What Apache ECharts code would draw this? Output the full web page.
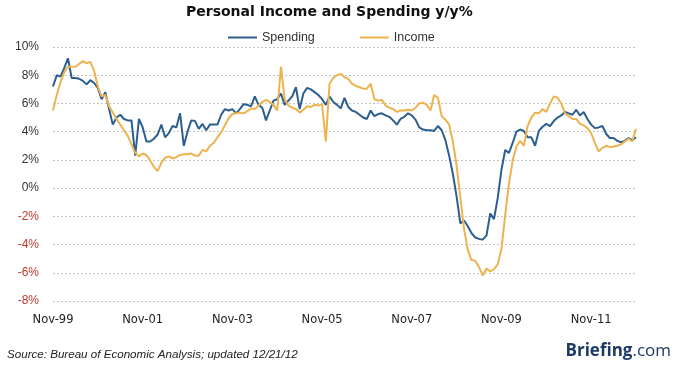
<!DOCTYPE html>
<html>
<head>
<meta charset="utf-8">
<script src="https://cdn.jsdelivr.net/npm/echarts@6/dist/echarts.min.js"></script>
<style>html,body{margin:0;padding:0;background:#fff}#c{width:680px;height:370px}</style>
</head>
<body>
<div id="c"></div>
<script>
// Monthly data, Nov-1999 .. Nov-2012 (y/y %)
const startYear = 1999, startMonth = 10; // November (0-based)
const monthNames = ['Jan','Feb','Mar','Apr','May','Jun','Jul','Aug','Sep','Oct','Nov','Dec'];
const spending = [
 7.2,8.0,7.9,8.5,9.2,7.8,7.8,7.75,7.6,7.35,7.65,7.45,7.1,6.3,6.8,5.6,4.5,5.0,5.2,4.9,
 4.8,4.8,2.3,4.9,4.3,3.3,3.3,3.5,3.8,4.5,3.6,3.9,4.4,4.3,5.3,3.0,4.0,4.8,4.75,4.2,
 4.55,4.1,4.5,4.5,4.5,5.2,5.6,5.5,5.6,5.3,5.6,5.95,5.9,5.8,6.5,5.9,5.7,4.8,5.5,6.2,
 6.3,6.7,5.9,6.2,6.5,7.15,5.6,6.7,7.1,7.0,6.8,6.6,6.3,5.9,6.5,6.1,5.9,5.65,6.4,5.75,
 5.5,5.4,5.2,5.0,4.9,5.5,5.1,5.25,5.3,5.15,5.05,4.8,4.5,4.9,5.05,5.3,5.15,4.85,4.3,4.15,
 4.1,4.1,4.05,4.4,4.1,3.4,2.3,1.0,-0.6,-2.5,-2.3,-2.7,-3.2,-3.5,-3.6,-3.65,-3.35,-1.8,-2.2,-0.7,
 1.3,2.7,2.5,3.2,4.0,4.15,4.05,3.6,3.6,3.0,4.05,4.35,4.55,4.4,4.75,5.0,5.15,5.4,5.3,5.2,
 5.55,5.15,5.4,4.9,4.5,4.25,4.3,4.4,3.85,3.55,3.55,3.35,3.25,3.35,3.55,3.4,3.6
];
const income = [
 5.5,6.6,7.5,8.2,8.6,8.6,8.6,8.8,9.0,8.85,8.95,8.3,7.2,6.5,6.6,5.8,5.35,4.9,4.5,4.1,
 3.7,3.1,2.5,2.25,2.45,2.35,1.95,1.5,1.2,1.8,2.15,2.25,2.1,2.2,2.35,2.4,2.4,2.45,2.3,2.3,
 2.7,2.6,3.0,3.2,3.6,3.95,4.45,4.95,5.25,5.3,5.35,5.3,5.45,5.65,5.6,5.85,6.1,6.25,6.1,5.9,
 5.5,8.6,6.3,5.85,5.7,5.6,5.35,5.55,5.8,5.75,5.9,5.85,5.95,3.3,7.4,7.8,8.0,8.1,7.85,7.75,
 7.4,7.25,7.15,7.05,7.05,7.4,6.3,6.2,6.25,5.85,5.7,5.6,5.4,5.5,5.5,5.55,5.5,5.7,6.0,6.05,
 5.9,5.5,6.6,6.4,5.1,4.85,4.5,3.3,1.6,-0.7,-2.9,-4.4,-5.1,-5.15,-5.6,-6.2,-5.7,-5.9,-5.75,-5.4,
 -4.3,-1.9,0.3,1.95,2.95,3.35,3.0,4.4,5.0,5.35,5.3,5.6,5.4,6.0,6.5,6.4,6.0,5.3,5.1,4.9,
 4.9,4.55,4.45,4.25,3.9,3.2,2.6,2.85,3.0,2.9,2.95,3.0,3.1,3.3,3.5,3.3,4.2
];
const seriesNames = ['Spending','Income'];
const yTicks = {min:-8, max:10, step:2};

const categories = [];
for (let k = 0; k < spending.length; k++) {
  const m = (startMonth + k) % 12;
  const y = startYear + Math.floor((startMonth + k) / 12);
  categories.push(monthNames[m] + '-' + String(y % 100).padStart(2,'0'));
}

const chart = echarts.init(document.getElementById('c'), null, {renderer:'canvas'});
chart.setOption({
  animation: false,
  backgroundColor: '#fff',
  grid: {left: 53, right: 44, top: 47, bottom: 69, containLabel: false},
  legend: {
    data: [
      {name: seriesNames[0], icon: 'rect'},
      {name: seriesNames[1], icon: 'rect'}
    ],
    left: 223, top: 26, itemWidth: 29, itemHeight: 2, itemGap: 45,
    textStyle: {fontFamily: 'Liberation Sans', fontSize: 12.5, color: '#333'}
  },
  xAxis: {
    type: 'category', data: categories, boundaryGap: false,
    axisLine: {show: false}, axisTick: {show: false},
    axisLabel: {interval: 23, margin: 13, fontFamily: 'DejaVu Sans', fontSize: 11.5, color: '#222'},
    splitLine: {show: false}
  },
  yAxis: {
    type: 'value', min: yTicks.min, max: yTicks.max, interval: yTicks.step,
    axisLine: {show: false}, axisTick: {show: false},
    axisLabel: {
      margin: 14, fontFamily: 'Liberation Sans', fontSize: 12,
      formatter: v => v + '%',
      color: v => (v < 0 ? '#c0392b' : '#333')
    },
    splitLine: {lineStyle: {color: '#c4c4c4', type: [2, 2], width: 1}}
  },
  series: [
    {name: seriesNames[0], type: 'line', data: spending, showSymbol: false,
     lineStyle: {width: 2, color: '#2C5F8F'}, itemStyle: {color: '#2C5F8F'}},
    {name: seriesNames[1], type: 'line', data: income, showSymbol: false,
     lineStyle: {width: 2, color: '#EDB34F'}, itemStyle: {color: '#EDB34F'}}
  ],
  graphic: [
    {type: 'text', left: 186, top: 5,
     style: {text: 'Personal Income and Spending y/y%', font: 'bold 14px "DejaVu Sans"', fill: '#111'}},
    {type: 'text', left: 7, top: 349,
     style: {text: 'Source: Bureau of Economic Analysis; updated 12/21/12', font: 'italic 11.6px "Liberation Sans"', fill: '#222'}},
    {type: 'text', right: 9, top: 343,
     style: {text: '{b|Briefing}{c|.com}', rich: {
       b: {fontFamily: 'Open Sans', fontWeight: 'bold', fontSize: 17, fill: '#1d3b66', color: '#1d3b66'},
       c: {fontFamily: 'Open Sans', fontSize: 17, fill: '#1d3b66', color: '#1d3b66'}
     }}}
  ]
});
</script>
</body>
</html>
